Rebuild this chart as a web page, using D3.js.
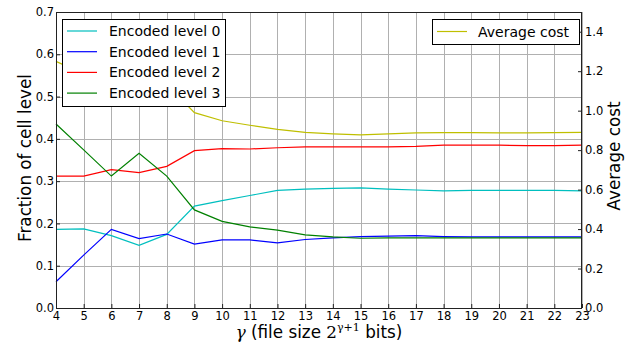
<!DOCTYPE html>
<html><head><meta charset="utf-8">
<script src="https://cdn.jsdelivr.net/npm/d3@7"></script>
<style>body{margin:0;background:#fff}svg{display:block}text{font-family:"DejaVu Sans",sans-serif}</style>
</head><body><svg id="c" width="636" height="346"></svg>
<script>
const gammas = [4,5,6,7,8,9,10,11,12,13,14,15,16,17,18,19,20,21,22,23];
const level0 = [0.186,0.187,0.171,0.148,0.174,0.241,0.254,0.266,0.278,0.281,0.283,0.284,0.281,0.279,0.277,0.278,0.278,0.278,0.278,0.277];
const level1 = [0.062,0.125,0.186,0.164,0.175,0.151,0.161,0.161,0.154,0.162,0.166,0.169,0.170,0.171,0.169,0.168,0.168,0.168,0.168,0.168];
const level2 = [0.312,0.312,0.327,0.320,0.335,0.372,0.377,0.376,0.379,0.381,0.381,0.381,0.381,0.382,0.385,0.385,0.385,0.384,0.384,0.385];
const level3 = [0.435,0.374,0.312,0.366,0.312,0.232,0.205,0.192,0.184,0.173,0.168,0.165,0.166,0.166,0.166,0.166,0.166,0.166,0.166,0.166];
const avgCost = [1.250,1.186,1.142,1.216,1.135,0.990,0.949,0.926,0.905,0.890,0.882,0.877,0.882,0.887,0.889,0.889,0.887,0.887,0.889,0.890];
const leftTicks = [0,0.1,0.2,0.3,0.4,0.5,0.6,0.7];
const rightTicks = [0,0.2,0.4,0.6,0.8,1.0,1.2,1.4];
const seriesNames = ["Encoded level 0","Encoded level 1","Encoded level 2","Encoded level 3"];
const seriesColors = ["#00bfbf","#0000ff","#ff0000","#008000"];
const costName = "Average cost", costColor = "#bfbf00";

const svg = d3.select("#c");
const L=56, R=582, T=12, B=308;
const x = d3.scaleLinear().domain([4,23]).range([L,R]);
const yL = d3.scaleLinear().domain([0,0.7]).range([B,T]);
const yR = d3.scaleLinear().domain([0,1.5]).range([B,T]);

// grid
const g = svg.append("g");
g.selectAll(".vg").data(gammas).enter().append("line")
  .attr("x1",d=>Math.round(x(d))+0.5).attr("x2",d=>Math.round(x(d))+0.5)
  .attr("y1",T).attr("y2",B).attr("stroke","#b0b0b0").attr("stroke-width",1);
g.selectAll(".hg").data(leftTicks).enter().append("line")
  .attr("x1",L).attr("x2",R)
  .attr("y1",d=>Math.round(yL(d))+0.5).attr("y2",d=>Math.round(yL(d))+0.5)
  .attr("stroke","#b0b0b0").attr("stroke-width",1);

// lines
const series = [level0,level1,level2,level3];
series.forEach((s,i)=>{
  svg.append("path").datum(s)
    .attr("d", d3.line().x((d,j)=>x(gammas[j])).y(d=>yL(d)))
    .attr("fill","none").attr("stroke",seriesColors[i]).attr("stroke-width",1.2);
});
svg.append("path").datum(avgCost)
  .attr("d", d3.line().x((d,j)=>x(gammas[j])).y(d=>yR(d)))
  .attr("fill","none").attr("stroke",costColor).attr("stroke-width",1.2);

// frame
svg.append("rect").attr("x",L+0.5).attr("y",T+0.5).attr("width",R-L-1).attr("height",B-T)
  .attr("fill","none").attr("stroke","#222").attr("stroke-width",1);

// axes
const axL = d3.axisLeft(yL).tickValues(leftTicks).tickFormat(d3.format(".1f")).tickSizeInner(-4).tickSizeOuter(0).tickPadding(2);
const axR = d3.axisRight(yR).tickValues(rightTicks).tickFormat(d3.format(".1f")).tickSizeInner(-4).tickSizeOuter(0).tickPadding(3);
const axB = d3.axisBottom(x).tickValues(gammas).tickFormat(d3.format("d")).tickSizeInner(-4).tickSizeOuter(0).tickPadding(4);
function styleAx(sel){
  sel.select(".domain").remove();
  sel.selectAll("line").attr("stroke","#222");
  sel.selectAll("text").attr("font-size","11.5px").attr("fill","#000").style("font-family","DejaVu Sans");
}
svg.append("g").attr("transform",`translate(${L},0)`).call(axL).call(styleAx);
svg.append("g").attr("transform",`translate(${R},0)`).call(axR).call(styleAx);
svg.append("g").attr("transform",`translate(0,${B})`).call(axB).call(styleAx);

// axis labels
svg.append("text").attr("transform",`translate(25,158) rotate(-90)`)
  .attr("text-anchor","middle").attr("dominant-baseline","central").attr("font-size","16.8px").text("Fraction of cell level");
svg.append("text").attr("transform",`translate(614,156) rotate(-90)`)
  .attr("text-anchor","middle").attr("dominant-baseline","central").attr("font-size","16.8px").text("Average cost");
const xl = svg.append("text").attr("x",319).attr("y",338).attr("text-anchor","middle").attr("font-size","16.8px");
xl.append("tspan").attr("font-family","DejaVu Serif").attr("font-style","italic").text("γ");
xl.append("tspan").text(" (file size ");
xl.append("tspan").attr("font-family","DejaVu Serif").text("2");
xl.append("tspan").attr("font-family","DejaVu Serif").attr("font-size","11px").attr("dy","-7").text("γ+1");
xl.append("tspan").attr("dy","7").text("  bits)");

// legend 1
const lg = svg.append("g");
lg.append("rect").attr("x",62.5).attr("y",19.5).attr("width",163).attr("height",87).attr("fill","#fff").attr("stroke","#000");
seriesNames.forEach((n,i)=>{
  const yy = 31 + i*20.7;
  lg.append("line").attr("x1",67).attr("x2",97).attr("y1",yy).attr("y2",yy).attr("stroke",seriesColors[i]).attr("stroke-width",1.2);
  lg.append("text").attr("x",109).attr("y",yy).attr("dominant-baseline","central").attr("font-size","14px").text(n);
});
// legend 2
const lg2 = svg.append("g");
lg2.append("rect").attr("x",432.5).attr("y",19.5).attr("width",147).attr("height",25).attr("fill","#fff").attr("stroke","#000");
lg2.append("line").attr("x1",437).attr("x2",467).attr("y1",31.5).attr("y2",31.5).attr("stroke",costColor).attr("stroke-width",1.2);
lg2.append("text").attr("x",478).attr("y",31.5).attr("dominant-baseline","central").attr("font-size","14px").text(costName);
</script></body></html>
